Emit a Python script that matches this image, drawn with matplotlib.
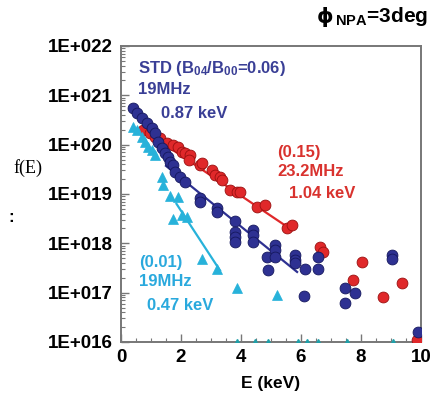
import numpy as np
import matplotlib
matplotlib.use("Agg")
import matplotlib.pyplot as plt

plt.rcParams['font.family'] = ['Liberation Sans', 'DejaVu Sans']
plt.rcParams['font.weight'] = 'bold'
plt.rcParams['mathtext.fontset'] = 'custom'
plt.rcParams['mathtext.rm'] = 'Liberation Sans:bold'
plt.rcParams['mathtext.default'] = 'rm'

# energy (keV) and log10 f(E)
std_E = [0.40, 0.53, 0.70, 0.87, 1.03, 1.13, 1.23, 1.37, 1.47, 1.57, 1.63, 1.73,
         1.80, 1.97, 2.13, 2.63, 2.63, 3.20, 3.20, 3.80, 3.80, 3.80, 3.80,
         4.40, 4.40, 4.40, 4.87, 4.90, 5.13, 5.13, 5.13, 5.80, 5.80, 5.80,
         6.13, 6.57, 6.57, 6.10, 7.47, 7.80, 7.47, 9.03, 9.03, 9.90]
std_logf = [20.74, 20.64, 20.54, 20.44, 20.34, 20.24, 20.05, 19.93, 19.83, 19.75, 19.65, 19.59,
            19.44, 19.34, 19.24, 18.92, 18.84, 18.71, 18.63, 18.45, 18.23, 18.13, 18.03,
            18.27, 18.17, 18.03, 17.72, 17.45, 17.96, 17.86, 17.72, 17.76, 17.66, 17.60,
            17.48, 17.72, 17.48, 16.93, 17.09, 16.99, 16.79, 17.76, 17.68, 16.20]

b15_E = [0.73, 0.97, 1.13, 1.30, 1.53, 1.73, 1.90, 2.03, 2.13, 2.30, 2.25, 2.63, 2.70,
         3.03, 3.13, 3.30, 3.37, 3.63, 3.87, 3.97, 4.53, 4.80, 5.53, 5.70,
         6.63, 6.73, 8.03, 7.73, 9.37, 8.73, 9.87]
b15_logf = [20.30, 20.24, 20.16, 20.13, 20.03, 19.99, 19.95, 19.85, 19.83, 19.79, 19.69, 19.59, 19.63,
            19.48, 19.38, 19.34, 19.28, 19.08, 19.04, 19.04, 18.73, 18.77, 18.31, 18.37,
            17.92, 17.82, 17.62, 17.25, 17.19, 16.91, 16.04]

b01_E = [0.40, 0.53, 0.70, 0.80, 0.90, 1.03, 1.13, 1.37, 1.40, 1.63, 1.90,
         1.73, 2.03, 2.20, 2.70, 3.20, 3.87, 5.20]
b01_logf = [20.36, 20.30, 20.15, 20.05, 19.95, 19.89, 19.79, 19.34, 19.18, 18.96, 18.94,
            18.49, 18.57, 18.53, 17.68, 17.48, 17.09, 16.95]
# triangles sitting on the bottom axis (1E+016)
b01_floor_E = [3.87, 4.47, 4.90, 5.90, 6.20, 6.57, 7.53, 9.07]

# fitted lines (end points)
std_fit_E, std_fit_logf = [1.50, 5.87], [19.57, 17.42]
b15_fit_E, b15_fit_logf = [0.73, 5.70], [20.30, 18.27]
b01_fit_E, b01_fit_logf = [1.85, 3.30], [18.80, 17.45]

yticks = [1e16, 1e17, 1e18, 1e19, 1e20, 1e21, 1e22]
ytick_labels = ['1E+016', '1E+017', '1E+018', '1E+019', '1E+020', '1E+021', '1E+022']
xticks = [0, 2, 4, 6, 8, 10]

navy = '#2e3192'
red = '#e0282a'
cyan = '#27b2da'

fig = plt.figure(figsize=(4.32, 3.94), dpi=100)
ax = fig.add_axes([121 / 432, 52 / 394, 300 / 432, 296 / 394])

ax.plot(std_fit_E, 10 ** np.array(std_fit_logf), color=navy, lw=1.6, zorder=2)
ax.plot(b15_fit_E, 10 ** np.array(b15_fit_logf), color=red, lw=1.6, zorder=2)
ax.plot(b01_fit_E, 10 ** np.array(b01_fit_logf), color=cyan, lw=1.6, zorder=2)

ax.plot(b15_E, 10 ** np.array(b15_logf), 'o', ms=7.8, mfc=red, mec='#9a1010', mew=0.6, zorder=3)
ax.plot(std_E, 10 ** np.array(std_logf), 'o', ms=7.8, mfc=navy, mec='#15185e', mew=0.6, zorder=4)
ax.plot(b01_E, 10 ** np.array(b01_logf), '^', ms=7, mfc=cyan, mec=cyan, mew=0.5, zorder=5)
ax.plot(b01_floor_E, [1e16] * len(b01_floor_E), '^', ms=5, mfc='#1f9fa8', mec='#1f9fa8', zorder=5)

ax.set_yscale('log')
ax.set_xlim(0, 10)
ax.set_ylim(1e16, 1e22)
ax.set_yticks(yticks)
ax.set_yticklabels(ytick_labels)
ax.set_xticks(xticks)
ax.set_xticks(np.arange(0, 10.01, 0.5), minor=True)
ax.tick_params(which='both', direction='in', labelsize=13.5, colors='#777777', labelcolor='black')
ax.tick_params(which='major', length=6, width=1)
ax.tick_params(which='minor', length=3, width=0.8)
ax.tick_params(axis='y', pad=6)
ax.tick_params(axis='x', pad=5)
for s in ax.spines.values():
    s.set_color('#777777')
    s.set_linewidth(1.4)

ax.set_xlabel('E (keV)', fontsize=12.5, fontweight='bold', labelpad=7)

def t(px, py, s, c, fs=12):
    ax.text((px - 121) / 300, (342 - py) / 296, s, color=c, fontsize=fs,
            fontweight='bold', transform=ax.transAxes, va='center', ha='left')

t(138, 69, 'STD (B$_{04}$/B$_{00}$=0.06)', '#3a3f96')
t(138, 90, '19MHz', '#3a3f96')
t(161, 113, '0.87 keV', '#3a3f96')
t(277, 153, '(0.15)', '#d9322e')
t(277, 172, '23.2MHz', '#d9322e')
t(289, 194, '1.04 keV', '#d9322e')
t(139, 262, '(0.01)', '#2aa9dd')
t(139, 281, '19MHz', '#2aa9dd')
t(147, 305, '0.47 keV', '#2aa9dd')

fig.text(428 / 432, 1 - 17 / 394, '$_{NPA}$=3deg', fontsize=15, fontweight='bold',
         ha='right', va='center')
fig.text(333 / 432, 1 - 17 / 394, 'ϕ', fontsize=15, fontweight='bold',
         family=['DejaVu Sans'], ha='right', va='center')
fig.text(13 / 432, 1 - 168 / 394, 'f(E)', fontsize=13, family=['Liberation Serif'],
         fontweight='normal', va='center', ha='left')
fig.text(8 / 432, 1 - 218 / 394, ':', fontsize=12, fontweight='bold', va='center', ha='left')

fig.savefig('out.png', dpi=100)
